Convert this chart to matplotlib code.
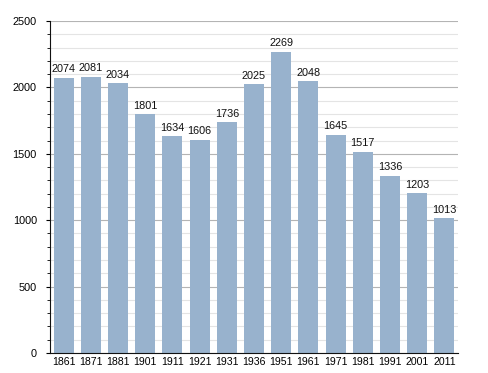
import matplotlib
matplotlib.use("Agg")
import matplotlib.pyplot as plt
from matplotlib.ticker import MultipleLocator

plt.rcParams["font.family"] = ["Liberation Sans", "DejaVu Sans"]

years = ["1861", "1871", "1881", "1901", "1911", "1921", "1931",
         "1936", "1951", "1961", "1971", "1981", "1991", "2001", "2011"]
population = [2074, 2081, 2034, 1801, 1634, 1606, 1736,
              2025, 2269, 2048, 1645, 1517, 1336, 1203, 1013]

BAR = "#98b2cd"

fig = plt.figure(figsize=(4.88, 3.73), dpi=100)
ax = fig.add_axes([0.1025, 0.0536, 0.836, 0.890])

x = range(len(years))
ax.bar(x, population, width=0.74, color=BAR, zorder=2)
for xi, v in zip(x, population):
    ax.text(xi, v + 25, str(v), ha="center", va="bottom", fontsize=7.8, color="#111111")

ax.set_xlim(-0.5, len(years) - 0.5)
ax.set_ylim(0, 2500)
ax.yaxis.set_major_locator(MultipleLocator(500))
ax.yaxis.set_minor_locator(MultipleLocator(100))
ax.grid(axis="y", which="major", color="#b4b4b4", lw=0.8, zorder=0)
ax.grid(axis="y", which="minor", color="#e4e4e4", lw=0.8, zorder=0)
ax.set_axisbelow(True)

ax.set_xticks(list(x))
ax.set_xticklabels(years, fontsize=7.6)
ax.tick_params(axis="x", length=0, pad=3)
ax.tick_params(axis="y", which="major", length=3, direction="out", labelsize=7.8, pad=6.5)
ax.tick_params(axis="y", which="minor", length=2, direction="out")

for s in ("top", "right"):
    ax.spines[s].set_visible(False)
ax.spines["left"].set_color("#111111")
ax.spines["bottom"].set_color("#111111")

fig.savefig("out.png", dpi=100)
